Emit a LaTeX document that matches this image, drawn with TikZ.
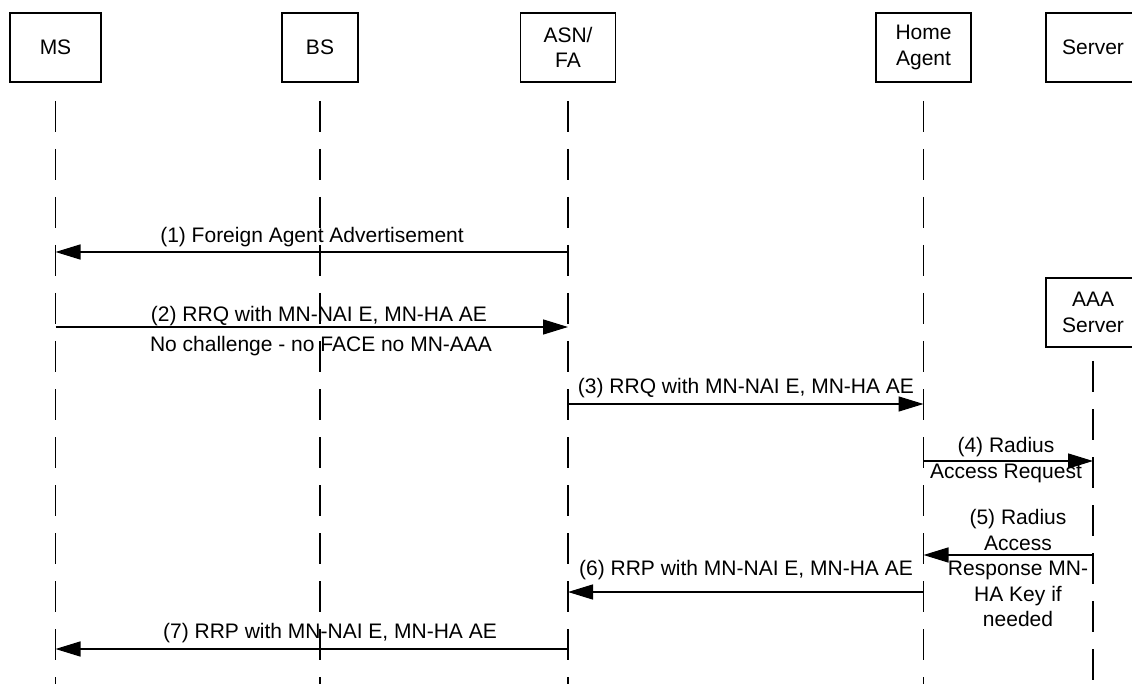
\documentclass[tikz,border=0pt]{standalone}
\usepackage{fontspec}
\setmainfont{Liberation Sans}
\usetikzlibrary{arrows.meta}
\begin{document}
\begin{tikzpicture}[x=1pt,y=-1pt,
  every node/.style={font=\fontsize{21}{25.5}\selectfont},
  actor/.style={draw, line width=1.5pt, rectangle, minimum height=69pt, inner sep=0pt, align=center},
  lifeline/.style={line width=1.5pt, dash pattern=on 31pt off 17pt},
  msg/.style={line width=1.5pt, -{Triangle[length=25pt,width=15pt]}},
  lbl/.style={inner sep=0pt, align=center}]
\useasboundingbox (0,0) rectangle (1132,684);
\clip (0,0) rectangle (1132,684);
\fill[white] (0,0) rectangle (1132,684);

% participants
\node[actor, minimum width=91pt] (ms)  at (55.5,47.5)  {MS};
\node[actor, minimum width=76pt] (bs)  at (320,47.5)   {BS};
\node[actor, minimum width=95pt] (asn) at (568,47.5)   {ASN/\\FA};
\node[actor, minimum width=95pt] (ha)  at (923.5,47.5) {Home\\Agent};
\node[actor, minimum width=94pt] (srv) at (1093,47.5)  {Server};
\node[actor, minimum width=94pt] (aaa) at (1093,312.5) {AAA\\Server};

% lifelines
\coordinate (top)  at (0,101);
\coordinate (atop) at (0,361);
\coordinate (bot)  at (0,700);
\draw[lifeline] (ms  |- top)  -- (ms  |- bot);
\draw[lifeline] (bs  |- top)  -- (bs  |- bot);
\draw[lifeline] (asn |- top)  -- (asn |- bot);
\draw[lifeline] (ha  |- top)  -- (ha  |- bot);
\draw[lifeline] (aaa |- atop) -- (aaa |- bot);

% message levels
\coordinate (y1) at (0,252);
\coordinate (y2) at (0,327);
\coordinate (y3) at (0,404);
\coordinate (y4) at (0,461);
\coordinate (y5) at (0,555);
\coordinate (y6) at (0,592);
\coordinate (y7) at (0,649);

% messages
\draw[msg] (asn |- y1) -- (ms  |- y1);
\draw[msg] (ms  |- y2) -- (asn |- y2);
\draw[msg] (asn |- y3) -- (ha  |- y3);
\draw[msg] (ha  |- y4) -- (aaa |- y4);
\draw[msg] (aaa |- y5) -- (ha  |- y5);
\draw[msg] (ha  |- y6) -- (asn |- y6);
\draw[msg] (asn |- y7) -- (ms  |- y7);

% message labels
\node[lbl] (l1)  at (312,237)  {(1) Foreign Agent Advertisement};
\node[lbl] (l2)  at (319,316)  {(2) RRQ with MN-NAI E, MN-HA AE};
\node[lbl] (l2b) at (321,346)  {No challenge - no FACE no MN-AAA};
\node[lbl] (l3)  at (746,388)  {(3) RRQ with MN-NAI E, MN-HA AE};
\node[lbl] (l4)  at (1006,460) {(4) Radius\\Access Request};
\node[lbl] (l5)  at (1018,568) {(5) Radius\\Access\\Response MN-\\HA Key if\\needed};
\node[lbl] (l6)  at (746,570)  {(6) RRP with MN-NAI E, MN-HA AE};
\node[lbl] (l7)  at (330,633)  {(7) RRP with MN-NAI E, MN-HA AE};
\end{tikzpicture}
\end{document}
